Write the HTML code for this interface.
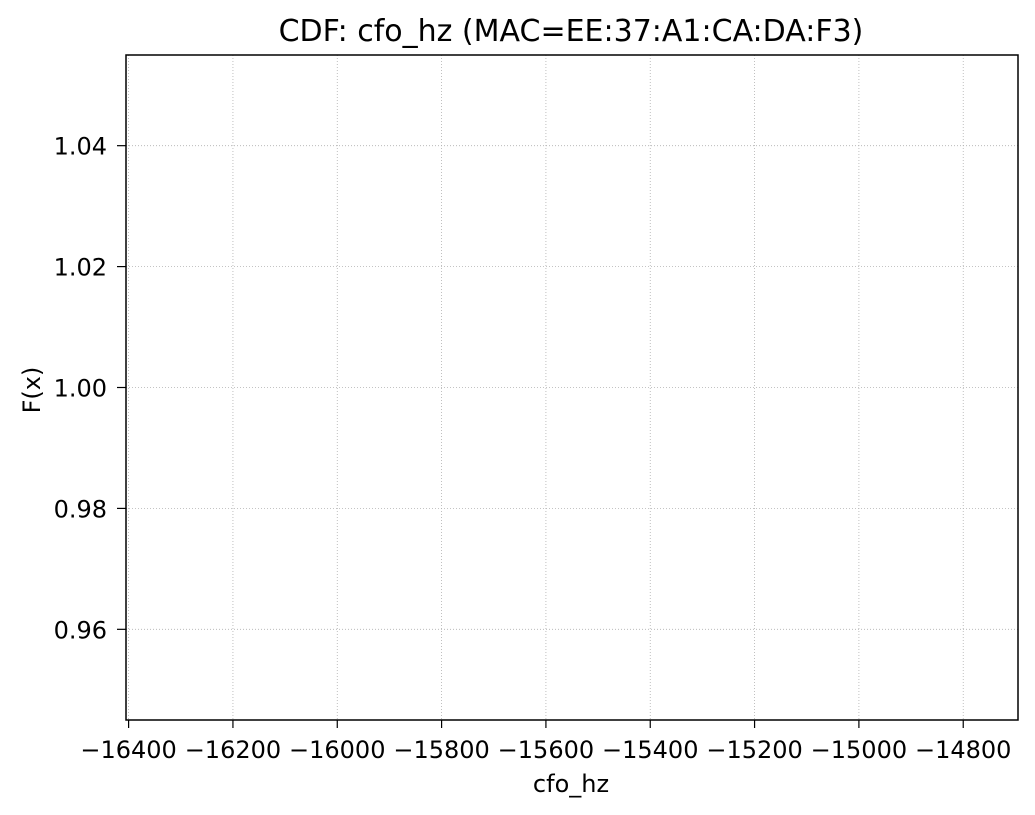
<!DOCTYPE html>
<html><head><meta charset="utf-8"><style>
html,body{margin:0;padding:0;background:#fff;}
svg{display:block;font-family:"DejaVu Sans","Liberation Sans",sans-serif;}
</style></head><body>
<svg id="chart" width="1035" height="815" viewBox="0 0 1035 815" xmlns="http://www.w3.org/2000/svg">
<rect x="0" y="0" width="1035" height="815" fill="#fff"/>
<text x="571" y="41" font-size="30" text-anchor="middle" fill="#000">CDF: cfo_hz (MAC=EE:37:A1:CA:DA:F3)</text>
<g id="grid"></g>
<g id="series"></g>
<g id="axes"></g>
<rect x="126" y="55" width="892" height="665" fill="none" stroke="#000" stroke-width="1.5"/>
<text x="571" y="792" font-size="24" text-anchor="middle" fill="#000">cfo_hz</text>
<text x="40" y="390" font-size="24" text-anchor="middle" fill="#000" transform="rotate(-90 40 390)">F(x)</text>
</svg>
<script>
const xTicks = [-16400, -16200, -16000, -15800, -15600, -15400, -15200, -15000, -14800];
const yTicks = [0.96, 0.98, 1.00, 1.02, 1.04];
const yTickLabels = ["0.96", "0.98", "1.00", "1.02", "1.04"];
const cdfX = [];
const cdfY = [];
const xDomain = [-16405, -14695];
const yDomain = [0.945, 1.055];
const L = 126, R = 1018, T = 55, B = 720;
function xs(v){ return L + (v - xDomain[0]) / (xDomain[1] - xDomain[0]) * (R - L); }
function ys(v){ return B - (v - yDomain[0]) / (yDomain[1] - yDomain[0]) * (B - T); }
const NS = "http://www.w3.org/2000/svg";
const grid = document.getElementById('grid'), axes = document.getElementById('axes'), series = document.getElementById('series');
function mk(tag, attrs){ const e = document.createElementNS(NS, tag); for (const k in attrs) e.setAttribute(k, attrs[k]); return e; }
xTicks.forEach(function(v){
  const x = xs(v);
  const g = mk('line', {x1:x, x2:x, y1:T, y2:B, stroke:'#b0b0b0', 'stroke-width':0.8, 'stroke-dasharray':'1,2'});
  
  
  grid.appendChild(g);
  const t = mk('line', {x1:x, x2:x, y1:B, y2:B+8, stroke:'#000', 'stroke-width':1.2});
  
  
  axes.appendChild(t);
  const l = mk('text', {x:x, y:B+38, 'font-size':24, 'text-anchor':'middle', fill:'#000'});
  
  
  l.textContent = '\u2212' + Math.abs(v);
  axes.appendChild(l);
});
yTicks.forEach(function(v, i){
  const y = ys(v);
  const g = mk('line', {x1:L, x2:R, y1:y, y2:y, stroke:'#b0b0b0', 'stroke-width':0.8, 'stroke-dasharray':'1,2'});
  
  
  grid.appendChild(g);
  const t = mk('line', {x1:L-9, x2:L, y1:y, y2:y, stroke:'#000', 'stroke-width':1.2});
  
  
  axes.appendChild(t);
  const l = mk('text', {x:L-19, y:y+9, 'font-size':24, 'text-anchor':'end', fill:'#000'});
  
  
  l.textContent = yTickLabels[i];
  axes.appendChild(l);
});
if (cdfX.length){
  let d = '';
  cdfX.forEach(function(v, i){ d += (i ? 'L' : 'M') + xs(v) + ',' + ys(cdfY[i]); });
  const p = mk('path', {d:d, fill:'none', stroke:'#1f77b4', 'stroke-width':2});
  
  
  series.appendChild(p);
}
</script>
</body></html>
